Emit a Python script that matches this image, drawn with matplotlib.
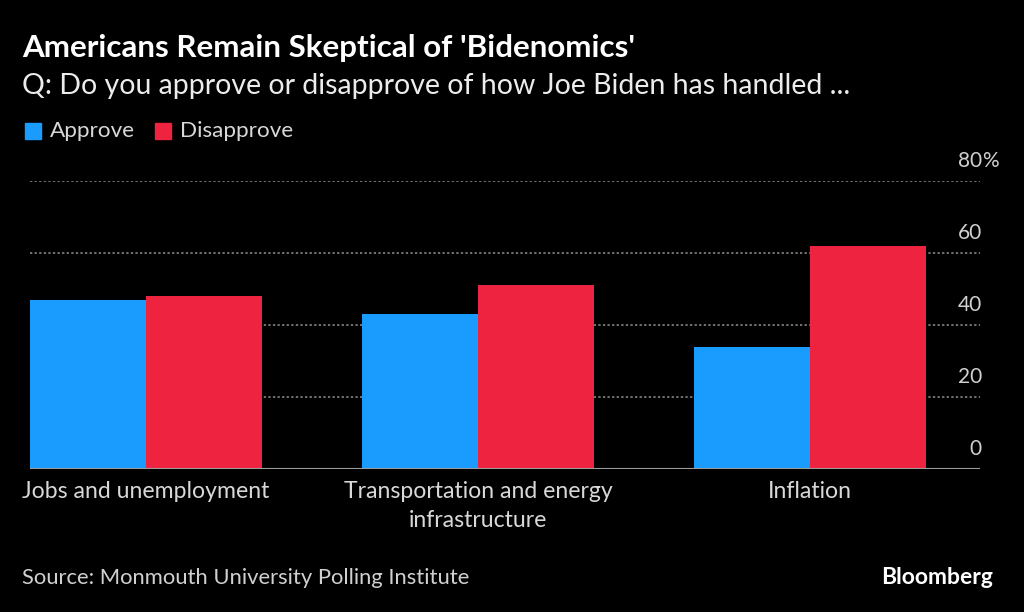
import matplotlib
matplotlib.use("Agg")
import matplotlib.pyplot as plt
import numpy as np

categories = ["Jobs and unemployment", "Transportation and energy\ninfrastructure", "Inflation"]
approve = [47, 43, 34]
disapprove = [48, 51, 62]
series_names = ["Approve", "Disapprove"]
yticks = [0, 20, 40, 60, 80]
ytick_labels = ["0", "20", "40", "60", "80%"]

BLUE = "#1a9cff"
RED = "#ee2340"
FONT = "Lato"

W, H = 1024, 612
fig = plt.figure(figsize=(W / 100, H / 100), dpi=100, facecolor="black")
ax = fig.add_axes([30 / W, 1 - 469 / H, 950 / W, (469 - 181) / H], facecolor="black")

x = np.arange(len(categories))
bw = 0.349
ax.bar(x - bw / 2, approve, width=bw, color=BLUE, zorder=3, linewidth=0)
ax.bar(x + bw / 2, disapprove, width=bw, color=RED, zorder=3, linewidth=0)

ax.set_xlim(-bw, 2 + 0.512)
ax.set_ylim(0, 80)

for t in yticks[1:]:
    ax.axhline(t, color="#909090", linestyle=(0, (1.5, 1.5)), linewidth=1.1, zorder=1)
ax.axhline(0, color="#9a9a9a", linewidth=1.5, zorder=4)

for s in ax.spines.values():
    s.set_visible(False)
ax.set_yticks([])
ax.set_xticks([])

# y tick labels: numbers right aligned at x=982, '%' beyond
for t, lab in zip(yticks, ytick_labels):
    num = lab.rstrip("%")
    yp = 1 - (469 - t * (469 - 181) / 80 - 20) / H
    fig.text(982 / W, yp, num, ha="right", va="center", color="#d0d0d0", fontsize=15, family=FONT)
    if lab.endswith("%"):
        fig.text(982 / W, yp, "%", ha="left", va="center", color="#d0d0d0", fontsize=15, family=FONT)

for xi, cat in zip(x, categories):
    ax.text(xi, -3.4, cat, ha="center", va="top", color="#d8d8d8", fontsize=16.6,
            family=FONT, linespacing=1.45, transform=ax.transData)

fig.text(22 / W, 1 - 48 / H, "Americans Remain Skeptical of 'Bidenomics'", ha="left", va="center",
         color="white", fontsize=22.6, fontweight="bold", family=FONT)
fig.text(22 / W, 1 - 86 / H, "Q: Do you approve or disapprove of how Joe Biden has handled ...",
         ha="left", va="center", color="#ececec", fontsize=20.5, family=FONT)

# legend
lx = 25
for name, col in zip(series_names, [BLUE, RED]):
    fig.patches.append(plt.Rectangle((lx / W, 1 - 139 / H), 16 / W, 16 / H, color=col,
                                     transform=fig.transFigure, figure=fig))
    fig.text((lx + 25) / W, 1 - 131 / H, name, ha="left", va="center", color="#d8d8d8",
             fontsize=16.2, family=FONT)
    lx = 155

fig.text(22 / W, 1 - 578 / H, "Source: Monmouth University Polling Institute", ha="left", va="center",
         color="#d0d0d0", fontsize=15.8, family=FONT)
fig.text(993 / W, 1 - 578 / H, "Bloomberg", ha="right", va="center", color="white", fontsize=16.5,
         fontweight="bold", family=FONT)

fig.savefig("out.png", dpi=100, facecolor="black")
